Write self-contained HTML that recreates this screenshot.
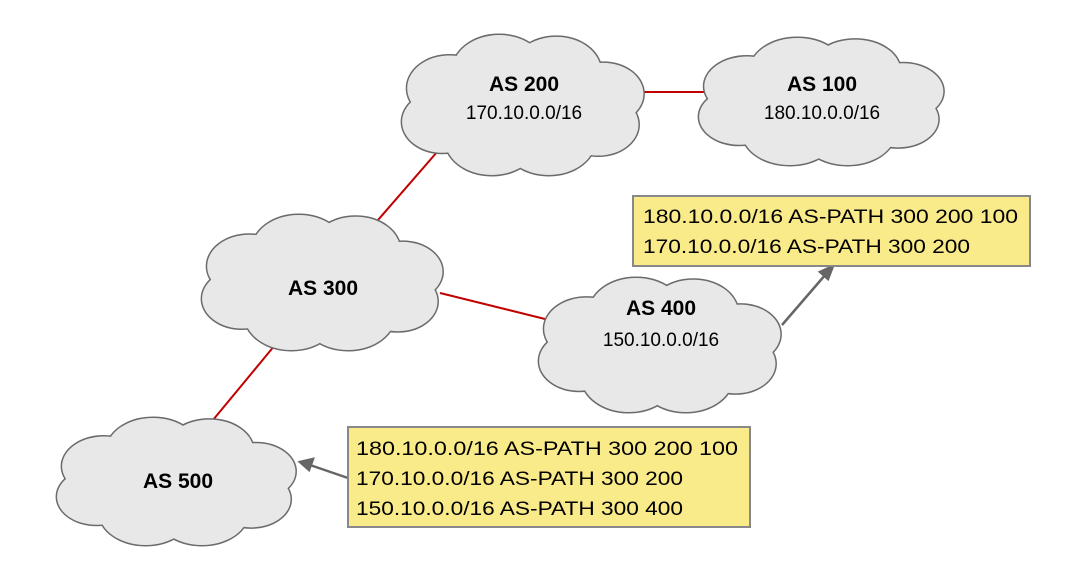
<!DOCTYPE html>
<html><head><meta charset="utf-8"><style>body{margin:0;background:#fff}svg{display:block}</style></head>
<body>
<svg id="s" width="1092" height="570" xmlns="http://www.w3.org/2000/svg" font-family="Liberation Sans, sans-serif">
<g stroke="#c00000" stroke-width="2">
<line x1="640" y1="92" x2="705" y2="92"/>
<line x1="444" y1="144" x2="378" y2="220"/>
<line x1="440" y1="293" x2="545" y2="319"/>
<line x1="275" y1="345" x2="213" y2="420"/>
</g>
<g id="clouds"></g>
<g stroke="#666" stroke-width="2.5" fill="#666">
<line x1="782" y1="325" x2="826" y2="274"/><polygon points="833,266 820,272 828,279"/>
<line x1="348" y1="478" x2="310" y2="465"/><polygon points="300,462 313,459 309,470"/>
</g>
<rect x="633" y="196" width="397" height="70" fill="#faeb8a" stroke="#888" stroke-width="2"/>
<rect x="348" y="427" width="402" height="100" fill="#faeb8a" stroke="#888" stroke-width="2"/>
<g font-size="19" fill="#000">
<text x="643" y="223" textLength="375" lengthAdjust="spacingAndGlyphs">180.10.0.0/16 AS-PATH 300  200  100</text>
<text x="643" y="253" textLength="327" lengthAdjust="spacingAndGlyphs">170.10.0.0/16 AS-PATH 300  200</text>
<text x="356" y="455" textLength="382" lengthAdjust="spacingAndGlyphs">180.10.0.0/16  AS-PATH 300  200  100</text>
<text x="356" y="485" textLength="327" lengthAdjust="spacingAndGlyphs">170.10.0.0/16 AS-PATH 300  200</text>
<text x="356" y="515" textLength="327" lengthAdjust="spacingAndGlyphs">150.10.0.0/16 AS-PATH 300  400</text>
</g>
<g text-anchor="middle" fill="#000">
<text x="524" y="91" font-size="21" font-weight="bold">AS 200</text>
<text x="524" y="119" font-size="19">170.10.0.0/16</text>
<text x="822" y="91" font-size="21" font-weight="bold">AS 100</text>
<text x="822" y="119" font-size="19">180.10.0.0/16</text>
<text x="323" y="295" font-size="21" font-weight="bold">AS 300</text>
<text x="661" y="315" font-size="21" font-weight="bold">AS 400</text>
<text x="661" y="346" font-size="19">150.10.0.0/16</text>
<text x="178" y="488" font-size="21" font-weight="bold">AS 500</text>
</g>
</svg>
<script>
var boxes=[[400,35,248,140],[697,38,251,127],[200,215,247,135],[537,278,248,134],[55,418,245,127]];
var lobes=[[0.2,0.38,0.18],[0.4,0.26,0.2],[0.63,0.26,0.19],[0.82,0.42,0.17],[0.8,0.64,0.17],[0.6,0.74,0.2],[0.37,0.74,0.2],[0.17,0.62,0.17],[0.5,0.5,0.3]];
var g=document.getElementById('clouds'),h='';
boxes.forEach(function(b){
 var s='',f='';
 lobes.forEach(function(l){
  var cx=b[0]+l[0]*b[2],cy=b[1]+l[1]*b[3],rx=l[2]*b[2]*0.95,ry=l[2]*b[3]*1.3;
  s+='<ellipse cx="'+cx+'" cy="'+cy+'" rx="'+rx+'" ry="'+ry+'" fill="#e8e8e8" stroke="#6b6b6b" stroke-width="3"/>';
  f+='<ellipse cx="'+cx+'" cy="'+cy+'" rx="'+rx+'" ry="'+ry+'" fill="#e8e8e8"/>';
 });
 h+=s+f;
});
g.innerHTML=h;
</script>
</body></html>
